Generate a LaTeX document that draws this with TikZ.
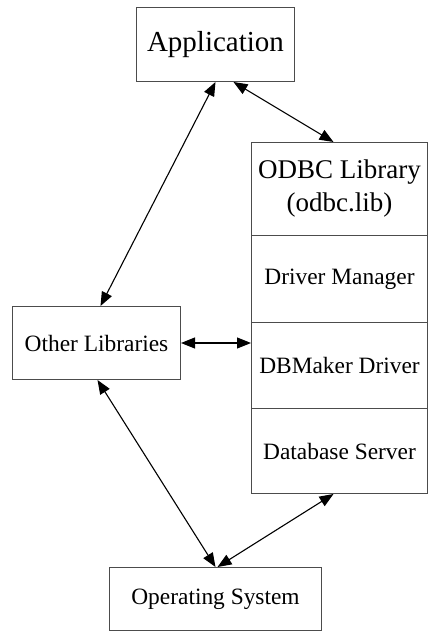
\documentclass[tikz,border=0pt]{standalone}
\usepackage{fontspec}
\setmainfont{Liberation Serif}
\usetikzlibrary{arrows.meta,calc}

\begin{document}
\begin{tikzpicture}[x=1pt,y=-1pt,
  box/.style={draw=black!70,line width=1pt,rectangle,inner sep=0pt,anchor=north west,
    align=center,font=\fontsize{23.4}{28}\selectfont},
  bigtext/.style={font=\fontsize{29}{33}\selectfont},
  odbctext/.style={font=\fontsize{27}{33}\selectfont},
  link/.style={line width=1.1pt,{Triangle[length=14pt,width=11pt]}-{Triangle[length=14pt,width=11pt]}}
]
\useasboundingbox (0,0) rectangle (428,631);

% boxes
\node[box,bigtext,minimum width=158pt,minimum height=74pt] (app) at (136,7) {Application};
\node[box,minimum width=168pt,minimum height=73pt] (other) at (12,306) {Other Libraries};
\node[box,minimum width=212pt,minimum height=63pt] (os) at (109,567) {Operating System};

% stacked ODBC library
\node[box,odbctext,minimum width=176pt,minimum height=93pt] (odbc) at (251,142) {ODBC Library\\(odbc.lib)};
\node[box,minimum width=176pt,minimum height=87pt] (drv) at (251,235) {Driver Manager};
\node[box,minimum width=176pt,minimum height=86pt] (dbm) at (251,322) {DBMaker Driver};
\node[box,minimum width=176pt,minimum height=85pt] (dbs) at (251,408) {Database Server};

% connectors
\draw[link] (app.south) -- ([xshift=4pt]other.north);
\draw[link] ([xshift=18pt]app.south) -- ([xshift=-6pt]odbc.north);
\draw[link] (other.east) -- (other.east -| dbm.west);
\draw[link] ([xshift=1pt]other.south) -- (os.north);
\draw[link] ([xshift=2pt]os.north) -- ([xshift=-6pt]dbs.south);
\end{tikzpicture}
\end{document}
